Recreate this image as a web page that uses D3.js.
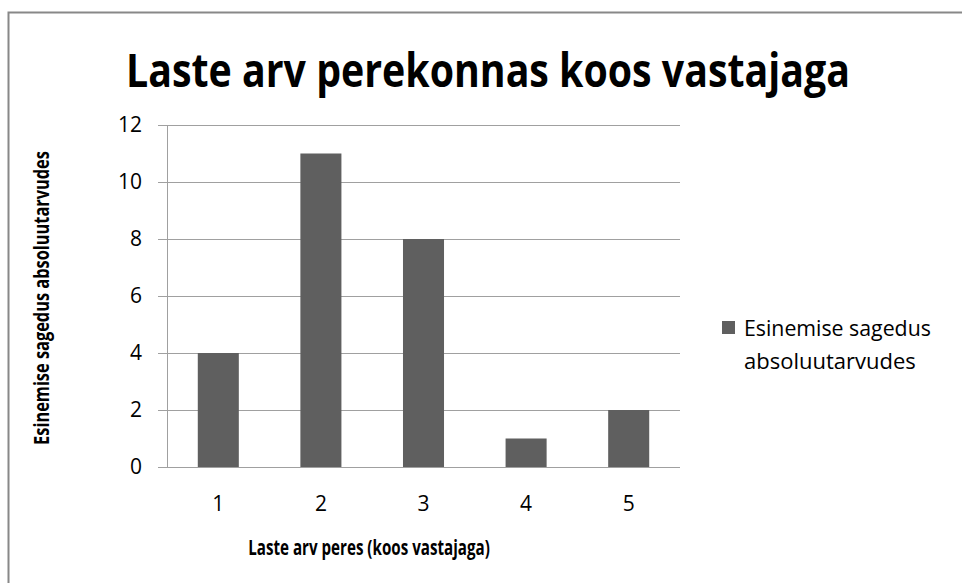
<!DOCTYPE html>
<html>
<head>
<meta charset="utf-8">
<script src="https://cdn.jsdelivr.net/npm/d3@7"></script>
<style>
  body { margin: 0; background: #fff; }
  text { font-family: "Open Sans", "DejaVu Sans", sans-serif; fill: #000; }
</style>
</head>
<body>
<div id="svgcontainer"></div>
<script>
var width = 962;
var height = 583;

// data
var categories = ["1", "2", "3", "4", "5"];
var values = [4, 11, 8, 1, 2];
var yTicks = [0, 2, 4, 6, 8, 10, 12];
var seriesName = ["Esinemise sagedus", "absoluutarvudes"];
var title = "Laste arv perekonnas koos vastajaga";
var xTitle = "Laste arv peres (koos vastajaga)";
var yTitle = "Esinemise sagedus absoluutarvudes";

var plot = {left: 167, right: 680, top: 125, bottom: 467};
var barColor = "#5f5f5f";
var gridColor = "#a0a0a0";

var svg = d3.select("#svgcontainer").append("svg")
    .attr("width", width).attr("height", height);

// squeeze a text horizontally (Calibri is narrower than what we have)
function narrowText(g, str, size, bold, w) {
    var t = g.append("text")
        .attr("font-size", size).attr("font-weight", bold ? "bold" : "normal")
        .text(str);
    var len = t.node().getComputedTextLength();
    var k = Math.min(1, w / len);
    t.attr("transform", "scale(" + k + ",1)");
    return t;
}

// outer frame (runs off right / bottom edges)
svg.append("rect")
    .attr("x", 8.5).attr("y", 12.5)
    .attr("width", width + 20).attr("height", height + 20)
    .attr("fill", "#fff").attr("stroke", "#888").attr("stroke-width", 2);

var x = d3.scaleBand().domain(categories)
    .range([plot.left, plot.right]).paddingInner(0.6).paddingOuter(0.3);
var y = d3.scaleLinear().domain([0, 12]).range([plot.bottom, plot.top]);

// gridlines + y labels
var yAxis = d3.axisLeft(y).tickValues(yTicks)
    .tickSize(-(plot.right - plot.left + 9)).tickPadding(16);
var gy = svg.append("g")
    .attr("transform", "translate(" + (plot.left - 9) + ",0)")
    .call(yAxis);
gy.select(".domain").remove();
gy.selectAll(".tick line").attr("stroke", gridColor).attr("shape-rendering", "crispEdges");
gy.selectAll(".tick text").attr("font-size", 21).attr("fill", "#222")
    .style("font-family", "'Open Sans', sans-serif");

// vertical axis line
svg.append("line")
    .attr("x1", plot.left + 0.5).attr("x2", plot.left + 0.5)
    .attr("y1", plot.top).attr("y2", plot.bottom)
    .attr("stroke", gridColor);

// bars
svg.selectAll("rect.bar").data(values).enter().append("rect")
    .attr("class", "bar")
    .attr("x", function(d, i) { return x(categories[i]); })
    .attr("width", x.bandwidth())
    .attr("y", function(d) { return y(d); })
    .attr("height", function(d) { return y(0) - y(d); })
    .attr("fill", barColor);

// x labels
var xAxis = d3.axisBottom(x).tickSize(0).tickPadding(29);
var gx = svg.append("g")
    .attr("transform", "translate(0," + plot.bottom + ")")
    .call(xAxis);
gx.select(".domain").remove();
gx.selectAll(".tick text").attr("font-size", 21).attr("fill", "#222")
    .style("font-family", "'Open Sans', sans-serif");

// title
var gt = svg.append("g").attr("transform", "translate(488,87)");
narrowText(gt, title, 47, true, 724).attr("text-anchor", "middle");

// axis titles
var gxt = svg.append("g").attr("transform", "translate(369,555)");
narrowText(gxt, xTitle, 22, true, 242).attr("text-anchor", "middle");

var gyt = svg.append("g").attr("transform", "translate(49,298) rotate(-90)");
narrowText(gyt, yTitle, 22, true, 294).attr("text-anchor", "middle");

// legend
svg.append("rect")
    .attr("x", 722).attr("y", 321).attr("width", 13).attr("height", 13)
    .attr("fill", barColor);
var gl1 = svg.append("g").attr("transform", "translate(744,336)");
narrowText(gl1, seriesName[0], 22, false, 187).attr("fill", "#222");
var gl2 = svg.append("g").attr("transform", "translate(744,369)");
narrowText(gl2, seriesName[1], 22, false, 178).attr("fill", "#222");
</script>
</body>
</html>
